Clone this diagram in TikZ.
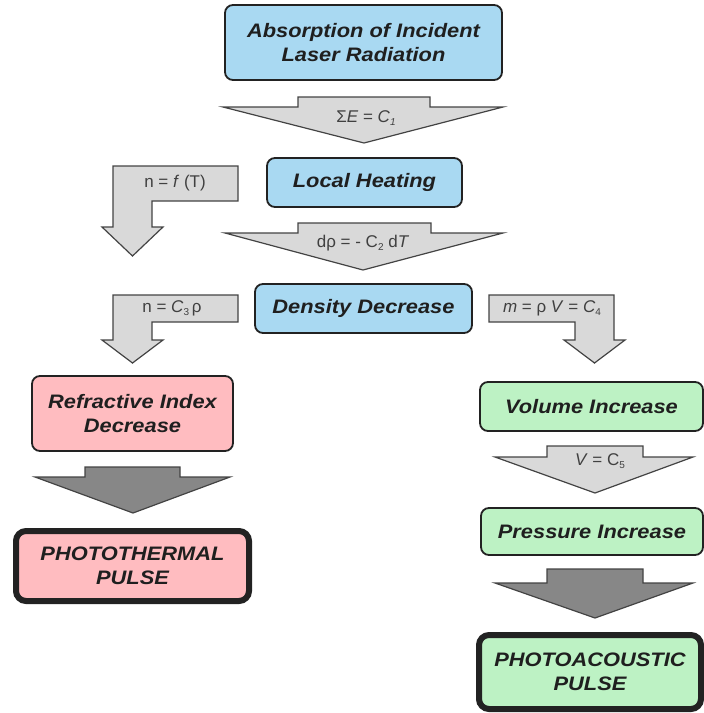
\documentclass[tikz,border=0pt]{standalone}
\usepackage{fontspec}
\setmainfont{Liberation Sans}
\newfontfamily\boxfont[FakeStretch=1.12]{Liberation Sans}
\usepackage{xcolor}
\usepackage{tikz}
\usetikzlibrary{arrows.meta}
\usetikzlibrary{calc}

\definecolor{boxblue}{HTML}{A9D9F2}
\definecolor{boxpink}{HTML}{FFBCC0}
\definecolor{boxgreen}{HTML}{BDF2C4}
\definecolor{arrowlight}{HTML}{D9D9D9}
\definecolor{arrowdark}{HTML}{878787}
\definecolor{edgedark}{HTML}{222222}

\newcommand{\lowsub}[1]{\raisebox{-0.35ex}{\fontsize{10}{10}\selectfont #1}}

\tikzset{
  stagebox/.style={draw=edgedark, line width=1.8pt, rounded corners=8pt, align=center, inner sep=0pt,
    font=\boxfont\bfseries\itshape\fontsize{19.5}{24}\selectfont, text=black!88},
  pulsebox/.style={stagebox, line width=6pt, rounded corners=10pt},
  lightarrow/.style={draw=edgedark!85, line width=1.2pt, fill=arrowlight, line join=miter},
  darkarrow/.style={lightarrow, fill=arrowdark},
  lawlabel/.style={font=\fontsize{17}{17}\selectfont, text=black!75, inner sep=1pt},
}

\begin{document}
\begin{tikzpicture}[x=1pt, y=-1pt]
    \useasboundingbox (0,0) rectangle (704,713);

    % stages
    \node[stagebox, fill=boxblue, minimum width=277pt, minimum height=75pt] (absorb) at (363.5,42.5) {Absorption of Incident\\Laser Radiation};
    \node[stagebox, fill=boxblue, minimum width=195pt, minimum height=49pt] (heat) at (364.5,182.5) {Local Heating};
    \node[stagebox, fill=boxblue, minimum width=217pt, minimum height=49pt] (density) at (363.5,308.5) {Density Decrease};
    \node[stagebox, fill=boxpink, minimum width=201pt, minimum height=75pt] (refr) at (132.5,413.5) {Refractive Index\\Decrease};
    \node[pulsebox, fill=boxpink, minimum width=233pt, minimum height=70pt] (thermal) at (132.5,566) {PHOTOTHERMAL\\PULSE};
    \node[stagebox, fill=boxgreen, minimum width=223pt, minimum height=49pt] (volume) at (591.5,406.5) {Volume Increase};
    \node[stagebox, fill=boxgreen, minimum width=222pt, minimum height=47pt] (pressure) at (592,531.5) {Pressure Increase};
    \node[pulsebox, fill=boxgreen, minimum width=222pt, minimum height=74pt] (acoustic) at (590,672) {PHOTOACOUSTIC\\PULSE};

    % block arrows
    \draw[lightarrow] (298,97) -- (430,97) -- (430,107) -- (503,107) -- (364,143) -- (223,107) -- (298,107) -- cycle;
    \draw[lightarrow] (298,223) -- (431,223) -- (431,233) -- (503,233) -- (363,270) -- (225,233) -- (298,233) -- cycle;
    \draw[lightarrow] (113,166) -- (238,166) -- (238,201) -- (152,201) -- (152,227) -- (163,227) -- (132.5,256) -- (102,227) -- (113,227) -- cycle;
    \draw[lightarrow] (113,295) -- (238,295) -- (238,322) -- (152,322) -- (152,340) -- (163,340) -- (132.5,363) -- (102,340) -- (113,340) -- cycle;
    \draw[lightarrow] (489,295) -- (614,295) -- (614,340) -- (625,340) -- (594.5,363) -- (564,340) -- (575,340) -- (575,322) -- (489,322) -- cycle;
    \draw[lightarrow] (547,446) -- (643,446) -- (643,457) -- (693,457) -- (595,493) -- (495,457) -- (547,457) -- cycle;
    \draw[darkarrow] (85,467) -- (180,467) -- (180,477) -- (230,477) -- (133,513) -- (35,477) -- (85,477) -- cycle;
    \draw[darkarrow] (547,569) -- (643,569) -- (643,583) -- (693,583) -- (595,618) -- (495,583) -- (547,583) -- cycle;

    % laws
    \node[lawlabel] (energy) at (366,118) {Σ\textit{E} = \textit{C}\lowsub{\textit{1}}};
    \node[lawlabel] (expand) at (363,243) {dρ = - C\lowsub{2} d\textit{T}};
    \node[lawlabel] (index) at (175,183) {n = \textit{f} (T)};
    \node[lawlabel] (linear) at (172,308) {n = \textit{C}\lowsub{3}\,ρ};
    \node[lawlabel] (mass) at (552,308) {\textit{m} = ρ \textit{V} = \textit{C}\lowsub{4}};
    \node[lawlabel] (volfix) at (600,461) {\textit{V} = C\lowsub{5}};
\end{tikzpicture}
\end{document}
